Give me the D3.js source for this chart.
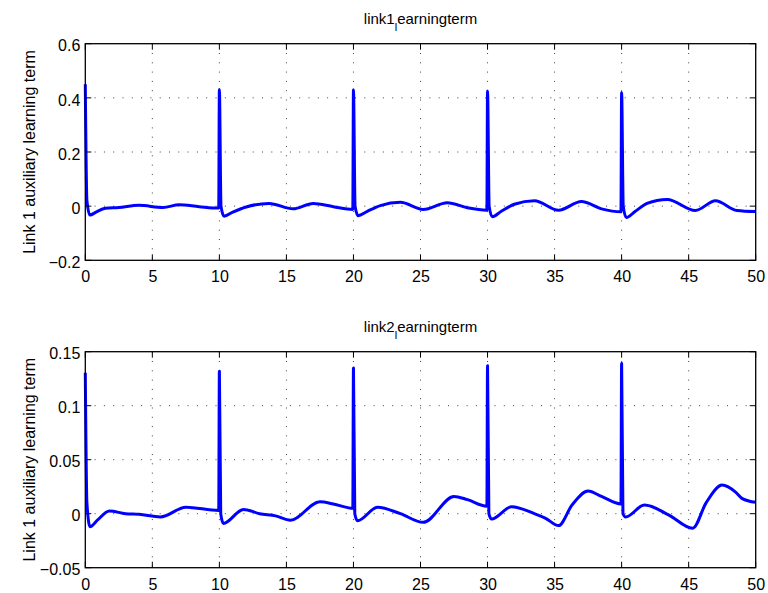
<!DOCTYPE html>
<html>
<head>
<meta charset="utf-8">
<script src="https://cdn.jsdelivr.net/npm/d3@7"></script>
<style>
  html, body { margin: 0; padding: 0; background: #fff; }
  svg { display: block; }
  text { font-family: "Liberation Sans", Arial, Helvetica, sans-serif; fill: #000; }
</style>
</head>
<body>
<svg id="chart" width="768" height="593"></svg>
<script>
// ---------------- DATA ----------------
const xTicks = [0, 5, 10, 15, 20, 25, 30, 35, 40, 45, 50];
const yTicks1 = [-0.2, 0, 0.2, 0.4, 0.6];
const yTicks2 = [-0.05, 0, 0.05, 0.1, 0.15];
const yLabel1 = "Link 1 auxiliary learning term";
const yLabel2 = "Link 1 auxiliary learning term";
const title1 = ["link1", "l", "earningterm"];
const title2 = ["link2", "l", "earningterm"];

const t1 = [0, 0.12, 0.35, 0.8, 1.5, 2.5, 4, 5.8, 7, 8.5, 9.95,
            10.0, 10.12, 10.35, 11, 12, 13.7, 15.5, 17, 18.5, 19.95,
            20.0, 20.12, 20.35, 21, 22, 23.5, 25.2, 27, 28.5, 29.95,
            30.0, 30.12, 30.35, 31, 32, 33.5, 35.3, 37, 38.5, 39.95,
            40.0, 40.12, 40.35, 41, 41.9, 43.4, 45.5, 47, 48.6, 50];
const v1 = [0.45, 0.02, -0.033, -0.022, -0.008, -0.005, 0.003, -0.005, 0.005, -0.002, -0.007,
            0.431, 0.0, -0.037, -0.022, -0.003, 0.01, -0.01, 0.01, -0.002, -0.012,
            0.43, 0.0, -0.035, -0.02, 0.002, 0.014, -0.012, 0.013, -0.006, -0.015,
            0.425, 0.0, -0.039, -0.02, 0.007, 0.02, -0.015, 0.017, -0.01, -0.021,
            0.42, 0.0, -0.042, -0.02, 0.01, 0.025, -0.016, 0.02, -0.016, -0.02];

const t2 = [0, 0.12, 0.35, 0.9, 1.8, 3, 4, 5.6, 7.5, 9.95,
            10.0, 10.1, 10.3, 11.8, 13, 14.2, 15.3, 17.5, 18.5, 19.95,
            20.0, 20.1, 20.3, 21.8, 23.5, 25.2, 27.5, 28.5, 29.95,
            30.0, 30.1, 30.3, 31.8, 33.5, 34.3, 35.3, 36.3, 37.5, 38.5, 39.95,
            40.0, 40.1, 40.3, 41.7, 43.5, 45.3, 46.3, 47.5, 48.5, 49, 50];
const v2 = [0.1305, 0.01, -0.012, -0.006, 0.0025, 0, -0.0006, -0.003, 0.006, 0.003,
            0.132, 0.0, -0.009, 0.004, 0, -0.002, -0.006, 0.011, 0.009, 0.005,
            0.135, 0.0, -0.0065, 0.006, 0, -0.008, 0.016, 0.013, 0.007,
            0.137, 0.0, -0.005, 0.0065, 0, -0.004, -0.011, 0.008, 0.021, 0.016, 0.009,
            0.139, 0.0, -0.003, 0.008, -0.001, -0.0135, 0.01, 0.0265, 0.02, 0.014, 0.0105];

// ---------------- DRAW ----------------
const svg = d3.select("#chart");
const left = 85.3, right = 755.7;

const panels = [
  { top: 43.7, bottom: 260.3, yDomain: [-0.2, 0.6], yTicks: yTicks1, t: t1, v: v1,
    title: title1, ylabel: yLabel1, fmt: d => d === 0 ? "0" : d3.format(".1f")(d).replace("-", "\u2212") },
  { top: 351.7, bottom: 567.7, yDomain: [-0.05, 0.15], yTicks: yTicks2, t: t2, v: v2,
    title: title2, ylabel: yLabel2, fmt: d => d === 0 ? "0" : String(+d.toFixed(2)).replace("-", "\u2212") }
];

panels.forEach(p => {
  const x = d3.scaleLinear().domain([0, 50]).range([left, right]);
  const y = d3.scaleLinear().domain(p.yDomain).range([p.bottom, p.top]);
  const g = svg.append("g");

  // grid
  g.append("g").selectAll("line.vg").data(xTicks.slice(1, -1)).join("line")
    .attr("x1", d => x(d)).attr("x2", d => x(d)).attr("y1", p.top).attr("y2", p.bottom)
    .attr("stroke", "#000").attr("stroke-opacity", 0.75).attr("stroke-width", 1)
    .attr("stroke-dasharray", "1,8.3");
  g.append("g").selectAll("line.hg").data(p.yTicks.slice(1, -1)).join("line")
    .attr("y1", d => y(d)).attr("y2", d => y(d)).attr("x1", left).attr("x2", right)
    .attr("stroke", "#000").attr("stroke-opacity", 0.75).attr("stroke-width", 1)
    .attr("stroke-dasharray", "1,8.3");

  // data line
  const line = d3.line().x(d => x(d[0])).y(d => y(d[1])).curve(d3.curveMonotoneX);
  g.append("path").datum(d3.zip(p.t, p.v))
    .attr("d", line).attr("fill", "none").attr("stroke", "#0000ff")
    .attr("stroke-width", 3).attr("stroke-linejoin", "round");

  // axes (ticks inside, box)
  const tl = 6;
  const axB = d3.axisBottom(x).tickValues(xTicks).tickSize(0).tickPadding(0).tickFormat(d3.format("d"));
  const gb = g.append("g").attr("transform", `translate(0,${p.bottom})`).call(axB);
  gb.select(".domain").remove();
  gb.selectAll("text").attr("font-size", 16).attr("dy", null).attr("y", 22)
    .style("font-family", '"Liberation Sans", Arial, sans-serif');

  const axL = d3.axisLeft(y).tickValues(p.yTicks).tickSize(0).tickPadding(0).tickFormat(p.fmt);
  const gl = g.append("g").attr("transform", `translate(${left},0)`).call(axL);
  gl.select(".domain").remove();
  gl.selectAll("text").attr("font-size", 16).attr("x", -5).attr("dy", "0.45em")
    .style("font-family", '"Liberation Sans", Arial, sans-serif');

  // inward tick marks on all four sides
  const tk = g.append("g").attr("stroke", "#000").attr("stroke-width", 1);
  xTicks.forEach(d => {
    tk.append("line").attr("x1", x(d)).attr("x2", x(d)).attr("y1", p.bottom).attr("y2", p.bottom - tl);
    tk.append("line").attr("x1", x(d)).attr("x2", x(d)).attr("y1", p.top).attr("y2", p.top + tl);
  });
  p.yTicks.forEach(d => {
    tk.append("line").attr("y1", y(d)).attr("y2", y(d)).attr("x1", left).attr("x2", left + tl);
    tk.append("line").attr("y1", y(d)).attr("y2", y(d)).attr("x1", right).attr("x2", right - tl);
  });

  g.append("rect").attr("x", left).attr("y", p.top).attr("width", right - left)
    .attr("height", p.bottom - p.top).attr("fill", "none").attr("stroke", "#000").attr("stroke-width", 1.3);

  // title with subscript
  const tt = g.append("text").attr("x", (left + right) / 2).attr("y", p.top - 20)
    .attr("text-anchor", "middle").attr("font-size", 15);
  tt.append("tspan").text(p.title[0]);
  tt.append("tspan").attr("dy", 7).attr("font-size", 11).text(p.title[1]);
  tt.append("tspan").attr("dy", -7).text(p.title[2]);

  // y label
  g.append("text")
    .attr("transform", `translate(35,${(p.top + p.bottom) / 2}) rotate(-90)`)
    .attr("text-anchor", "middle").attr("font-size", 16).text(p.ylabel);
});
</script>
</body>
</html>
